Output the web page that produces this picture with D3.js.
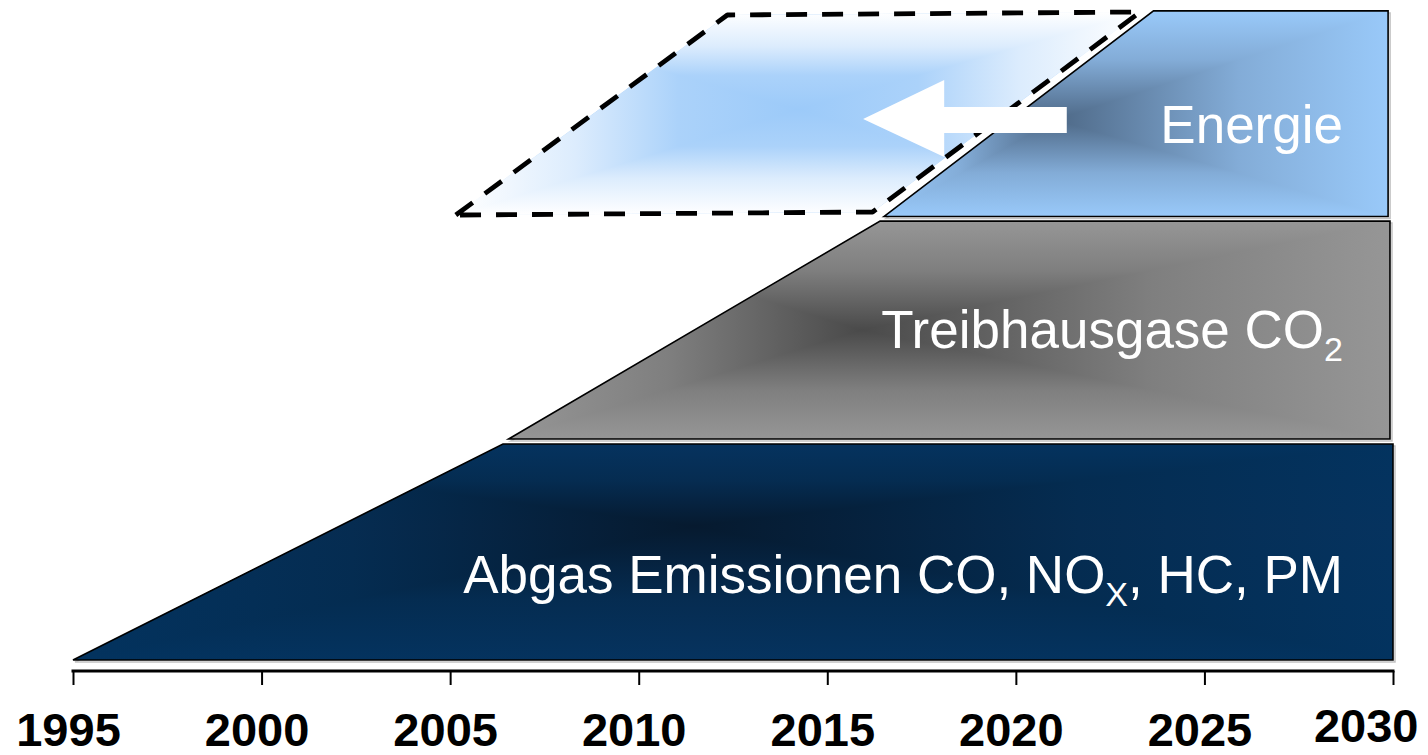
<!DOCTYPE html>
<html><head><meta charset="utf-8">
<script src="https://cdn.jsdelivr.net/npm/d3@7"></script>
<style>html,body{margin:0;padding:0;background:#fff;} svg{display:block;}</style>
</head><body><svg id="c" width="1428" height="755"></svg>
<script>
// ---- data ----
const years = [1995, 2000, 2005, 2010, 2015, 2020, 2025, 2030];
const tickLabels = ["1995", "2000", "2005", "2010", "2015", "2020", "2025", "2030"];
const bandNames = ["Abgas", "Treibhausgase", "Energie"];
const bandStartYear = [1995.0, 2006.55, 2016.5];   // bottom-left corner
const bandFullYear = [2006.4, 2016.4, 2023.65];     // top-left corner
const bandEndYear = [2030.0, 2029.92, 2029.87];     // right edge
const bandBottom = [0.0, 1.023, 2.053];
const bandTop = [1.0, 2.032, 3.005];
const bandLabelMain = ["Abgas Emissionen CO, NO", "Treibhausgase CO", "Energie"];
const bandLabelSub = ["X", "2", ""];
const bandLabelTail = [", HC, PM", "", ""];
const shiftYears = [2005.15, 2012.35, 2023.3, 2016.2];   // dashed target area
const shiftLevels = [2.06, 2.986, 3.0, 2.074];
const arrowYears = [2015.95, 2018.1, 2021.35];           // tip, head base, tail
const arrowLevels = [2.505, 2.685, 2.56, 2.44, 2.329];   // tip, head top, shaft top, shaft bottom, head bottom

// ---- styles ----
const bandEdge = ["#03335f", "#969696", "#99c9f9"];
const bandCore = ["#061a2f", "#4a4a4a", "#4e6987"];
const bandCoreX = [0.47, 0.40, 0.34];
const bandCoreY = [0.38, 0.50, 0.53];
const shiftEdge = "#ffffff", shiftCore = "#9ccaf9";

const svg = d3.select("#c");
const x = d3.scaleLinear().domain([1995, 2030]).range([73, 1393]);
const y = d3.scaleLinear().domain([0, 3]).range([660, 12]);
const defs = svg.append("defs");

const bandProfile = [[0, 0], [0.45, 0.3], [0.8, 0.75], [1, 1]];
const shiftProfile = [[0, 0], [0.35, 0.35], [0.65, 0.85], [1, 1]];

function addGrad(id, horiz, c, edge, core, profile) {
  const g = defs.append("linearGradient").attr("id", id)
    .attr("x1", 0).attr("y1", 0).attr("x2", horiz ? 1 : 0).attr("y2", horiz ? 0 : 1);
  const m = d3.interpolateRgb(edge, core);
  const left = profile.map(([f, t]) => [c * f, t]);
  const right = profile.slice(0, -1).reverse().map(([f, t]) => [1 - (1 - c) * f, t]);
  left.concat(right).forEach(([o, t]) => g.append("stop").attr("offset", o).attr("stop-color", m(t)));
}

const line = d3.line();

// bands
bandNames.forEach((n, i) => {
  addGrad("h" + i, true, bandCoreX[i], bandEdge[i], bandCore[i], bandProfile);
  addGrad("v" + i, false, bandCoreY[i], bandEdge[i], bandCore[i], bandProfile);
  const pts = [
    [x(bandStartYear[i]), y(bandBottom[i])],
    [x(bandFullYear[i]), y(bandTop[i])],
    [x(bandEndYear[i]), y(bandTop[i])],
    [x(bandEndYear[i]), y(bandBottom[i])]
  ];
  const d = line(pts) + "Z";
  svg.append("path").attr("d", d).attr("transform", "translate(2,2)")
    .attr("fill", "none").attr("stroke", "#999").attr("stroke-opacity", 0.6).attr("stroke-width", 1.5);
  const g = svg.append("g").style("isolation", "isolate");
  g.append("path").attr("d", d).attr("fill", `url(#h${i})`);
  g.append("path").attr("d", d).attr("fill", `url(#v${i})`).style("mix-blend-mode", "lighten");
  svg.append("path").attr("d", d).attr("fill", "none").attr("stroke", "#000").attr("stroke-width", 1.6)
    .attr("stroke-linejoin", "miter");
});

// dashed target area
addGrad("hs", true, 0.5, shiftEdge, shiftCore, shiftProfile);
addGrad("vs", false, 0.48, shiftEdge, shiftCore, shiftProfile);
const sd = line(shiftYears.map((yr, i) => [x(yr), y(shiftLevels[i])])) + "Z";
const gs = svg.append("g").style("isolation", "isolate");
gs.append("path").attr("d", sd).attr("fill", "url(#hs)");
gs.append("path").attr("d", sd).attr("fill", "url(#vs)").style("mix-blend-mode", "lighten");
svg.append("path").attr("d", sd).attr("fill", "none").attr("stroke", "#000")
  .attr("stroke-width", 4.8).attr("stroke-dasharray", "21 15").attr("stroke-linejoin", "round");

// arrow
const [tipY, headTop, shaftTop, shaftBot, headBot] = arrowLevels.map(v => y(v));
const [tipX, baseX, tailX] = arrowYears.map(v => x(v));
svg.append("path").attr("fill", "#fff")
  .attr("d", line([[tipX, tipY], [baseX, headTop], [baseX, shaftTop], [tailX, shaftTop],
    [tailX, shaftBot], [baseX, shaftBot], [baseX, headBot]]) + "Z");

// band labels
const labelRight = 1343;
const labelBase = [593, 348, 143];
bandNames.forEach((n, i) => {
  const t = svg.append("text").attr("x", labelRight).attr("y", labelBase[i])
    .attr("text-anchor", "end").attr("fill", "#fff")
    .style("font-family", "'Liberation Sans', Arial, sans-serif").style("font-size", "53px");
  t.append("tspan").text(bandLabelMain[i]);
  if (bandLabelSub[i]) t.append("tspan").attr("dy", 13).style("font-size", "34px").text(bandLabelSub[i]);
  if (bandLabelTail[i]) t.append("tspan").attr("dy", -13).text(bandLabelTail[i]);
});

// axis
const axis = d3.axisBottom(x).tickValues(years).tickSize(14).tickSizeOuter(0)
  .tickFormat((d, i) => tickLabels[i]);
const ga = svg.append("g").attr("transform", "translate(0,671)").call(axis);
ga.select(".domain").attr("stroke", "#000").attr("stroke-width", 3.2).attr("d", `M${x(1995) - 1.5},0H${x(2030) + 1.5}`);
ga.selectAll(".tick line").attr("stroke", "#000").attr("stroke-width", 2);
ga.selectAll(".tick text")
  .attr("y", 75).attr("dy", 0).attr("dx", -5).attr("fill", "#000")
  .style("font-family", "'Liberation Sans', Arial, sans-serif").style("font-size", "47px").style("font-weight", "bold");
ga.selectAll(".tick text").filter((d, i) => i === years.length - 1)
  .attr("text-anchor", "end").attr("dx", 25).attr("y", 71);
</script></body></html>
